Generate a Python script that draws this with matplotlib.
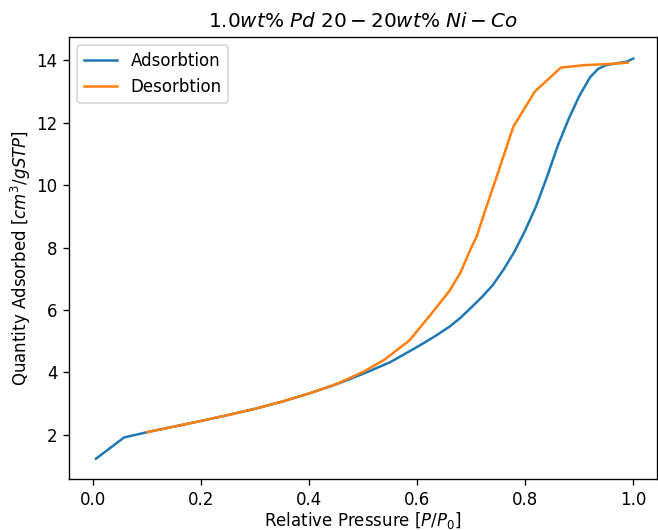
import matplotlib
matplotlib.use('Agg')
import matplotlib.pyplot as plt

# adsorption branch
ads_p = [0.005, 0.057, 0.1, 0.15, 0.2, 0.25, 0.3, 0.35, 0.4, 0.45, 0.5, 0.55,
         0.6, 0.63, 0.66, 0.68, 0.7, 0.72, 0.74, 0.76, 0.78, 0.8, 0.82, 0.84,
         0.86, 0.88, 0.9, 0.92, 0.935, 0.95, 0.97, 0.988, 1.0]
ads_q = [1.24, 1.92, 2.09, 2.27, 2.45, 2.64, 2.84, 3.07, 3.33, 3.62, 3.96, 4.33,
         4.82, 5.13, 5.47, 5.75, 6.08, 6.42, 6.8, 7.3, 7.87, 8.55, 9.32, 10.25,
         11.25, 12.1, 12.85, 13.45, 13.72, 13.84, 13.9, 13.95, 14.05]

# desorption branch
des_p = [0.1, 0.15, 0.2, 0.25, 0.3, 0.35, 0.4, 0.45, 0.5, 0.54, 0.585, 0.62,
         0.66, 0.68, 0.7, 0.71, 0.725, 0.745, 0.778, 0.818, 0.866, 0.91, 0.96, 0.99]
des_q = [2.09, 2.27, 2.45, 2.64, 2.84, 3.07, 3.33, 3.63, 4.02, 4.42, 5.02, 5.75,
         6.62, 7.2, 8.0, 8.35, 9.15, 10.16, 11.87, 13.0, 13.76, 13.84, 13.88, 13.92]

fig = plt.figure(figsize=(658 / 120, 530 / 120), dpi=120)
ax = fig.add_axes([69 / 658, 1 - 479 / 530, (657 - 69) / 658, (479 - 37) / 530])

ax.plot(ads_p, ads_q, label="Adsorbtion")
ax.plot(des_p, des_q, label="Desorbtion")

ax.set_xlim(-0.045, 1.044)
ax.set_ylim(0.59, 14.74)
ax.set_title(r"1.0$wt\%$ $Pd$ $20-20wt\%$ $Ni-Co$")
ax.set_xlabel(r"Relative Pressure [$P/P_0$]", labelpad=1)
ax.set_ylabel(r"Quantity Adsorbed [$cm^3/gSTP$]", labelpad=2)
ax.legend(loc="upper left")

fig.savefig("out.png", dpi=120)
